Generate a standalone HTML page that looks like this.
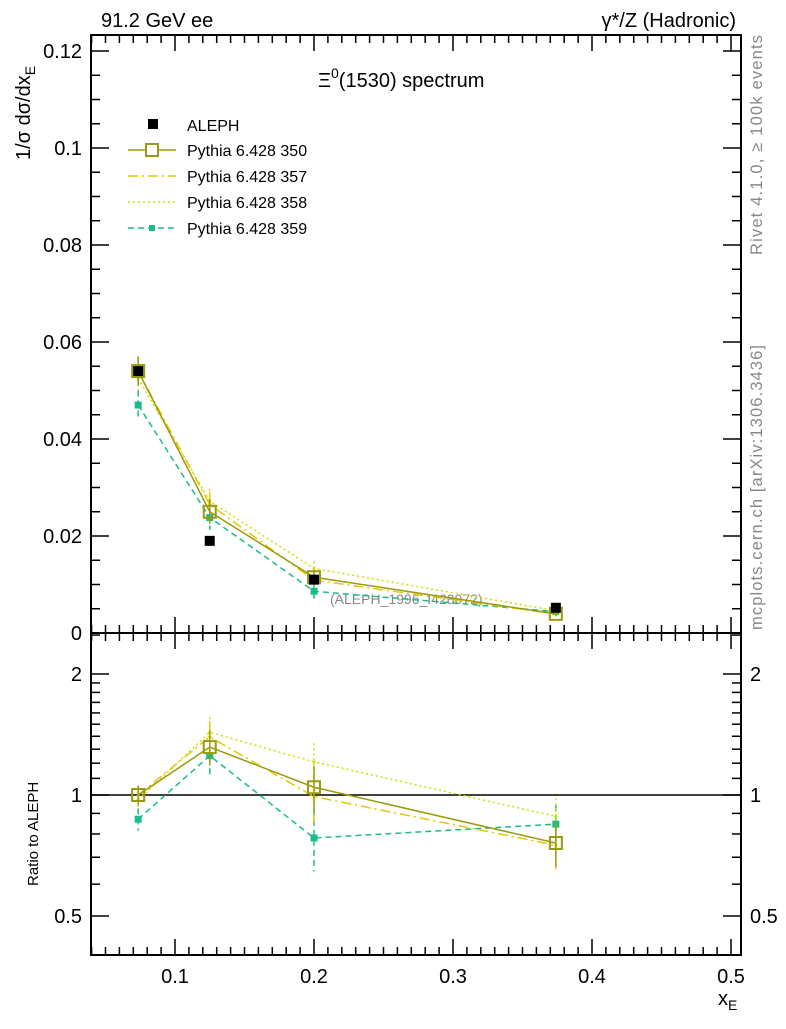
<!DOCTYPE html>
<html><head><meta charset="utf-8"><style>
body{margin:0;background:#fff;width:786px;height:1024px;overflow:hidden}
svg text{font-family:"Liberation Sans",sans-serif}
</style></head><body>
<svg id="c" width="786" height="1024" xmlns="http://www.w3.org/2000/svg"></svg>
<script>
const xs=[0.0735,0.125,0.2,0.374];
const aleph=[0.054,0.019,0.011,0.0052];
const alephErr=[0.0015,0.0008,0.0008,0.0004];
const s350=[0.054,0.025,0.0115,0.00395];
const s357=[0.054,0.0265,0.0109,0.0039];
const s358=[0.0525,0.0272,0.0133,0.0046];
const s359=[0.0470,0.0238,0.0086,0.0044];
const mcErr=[0.003,0.0025,0.0015,0.0005];
const xTicks=[0.1,0.2,0.3,0.4,0.5];
const yTicks=[0,0.02,0.04,0.06,0.08,0.1,0.12];
const rTicks=[0.5,1,2];
const L=91,R=741,T=35,M=633,B=955;
const X=v=>36+v*1390;
const Y=v=>633-v*4850;
const RY=v=>795-Math.log2(v)*121;
const svg=document.getElementById('c');const NS='http://www.w3.org/2000/svg';
function el(t,a,p){const e=document.createElementNS(NS,t);for(const k in a)e.setAttribute(k,a[k]);(p||svg).appendChild(e);return e;}
function txt(s,x,y,a,p){const e=el('text',Object.assign({x:x,y:y,'font-size':20},a||{}),p);e.textContent=s;return e;}
const f1=el('rect',{x:L,y:T,width:R-L,height:M-T,fill:'none',stroke:'#000','stroke-width':2});

const f2=el('rect',{x:L,y:M,width:R-L,height:B-M,fill:'none',stroke:'#000','stroke-width':2});

for(let i=4;i<=50;i++){const v=i/100,x=X(v);if(x<L||x>R)continue;const maj=i%10==0,l=maj?16:8;
 for(const [y0,d] of [[M,-1],[M,1],[B,-1],[T,1]]) el('line',{x1:x,x2:x,y1:y0,y2:y0+d*l,stroke:'#000','stroke-width':1.5});}
xTicks.forEach(v=>{const t=txt(v.toFixed(1),X(v),983,{'text-anchor':'middle'});});
for(let i=0;i<=24;i++){const v=i*0.005,y=Y(v);if(y<T)continue;const maj=i%4==0,l=maj?18:9;
 el('line',{x1:L,x2:L+l,y1:y,y2:y,stroke:'#000','stroke-width':1.5});el('line',{x1:R,x2:R-l,y1:y,y2:y,stroke:'#000','stroke-width':1.5});}
yTicks.forEach(v=>{const t=txt(v===0?'0':String(+v.toFixed(2)),82,Y(v)+7,{'text-anchor':'end'});});
const rMinor=[0.4,0.5,0.6,0.7,0.8,0.9,1,1.1,1.2,1.3,1.4,1.5,1.6,1.7,1.8,1.9,2,2.5];
rMinor.forEach(v=>{const y=RY(v);if(y<M||y>B)return;const maj=rTicks.includes(v),l=maj?18:9;
 el('line',{x1:L,x2:L+l,y1:y,y2:y,stroke:'#000','stroke-width':1.5});el('line',{x1:R,x2:R-l,y1:y,y2:y,stroke:'#000','stroke-width':1.5});});
rTicks.forEach(v=>{const a=txt(String(v),82,RY(v)+7,{'text-anchor':'end'});
 const b=txt(String(v),750,RY(v)+7);});
el('line',{x1:L,x2:R,y1:RY(1),y2:RY(1),stroke:'#000','stroke-width':1.5});
txt('91.2 GeV ee',101,27);txt('γ*/Z (Hadronic)',736,27,{'text-anchor':'end'});
const tt=el('text',{x:318,y:87,'font-size':20});tt.innerHTML='Ξ<tspan dy="-9" font-size="14">0</tspan><tspan dy="9">(1530) spectrum</tspan>';

const yl=el('text',{x:0,y:0,'font-size':20,transform:'translate(30,160) rotate(-90)'});yl.innerHTML='1/σ   dσ/dx<tspan font-size="14" dy="5">E</tspan>';

const rl=txt('Ratio to ALEPH',0,0,{'font-size':15,transform:'translate(38,886) rotate(-90)'});
const xl=el('text',{x:718,y:1005,'font-size':20});xl.innerHTML='x<tspan font-size="14" dy="5">E</tspan>';
txt('Rivet 4.1.0, ≥ 100k events',0,0,{'font-size':16.5,fill:'#888',transform:'translate(762,255) rotate(-90)',textLength:220});
txt('mcplots.cern.ch [arXiv:1306.3436]',0,0,{'font-size':16.5,fill:'#888',transform:'translate(762,630) rotate(-90)',textLength:285});
txt('(ALEPH_1996_I428072)',330,604,{'font-size':14,fill:'#888'});
const series=[
 {d:s359,c:'#1bbc8c',dash:'6,4',m:'sq',n:'pythia-359'},
 {d:s358,c:'#cfe000',dash:'2,3',m:'dot',n:'pythia-358'},
 {d:s357,c:'#e6c800',dash:'10,4,2,4',m:'dot',n:'pythia-357'},
 {d:s350,c:'#9a9a10',dash:'',m:'open',n:'pythia-350'}];
function draw(s,fy,vals,errs){
 const g=el('g',{});
 el('polyline',{points:xs.map((x,i)=>X(x)+','+fy(vals[i])).join(' '),fill:'none',stroke:s.c,'stroke-width':1.5,'stroke-dasharray':s.dash},g);
 xs.forEach((x,i)=>{const px=X(x),py=fy(vals[i]),e1=fy(vals[i]+errs[i]),e2=fy(Math.max(vals[i]-errs[i],1e-4));
  el('line',{x1:px,x2:px,y1:e1,y2:e2,stroke:s.c,'stroke-width':1.5,'stroke-dasharray':s.dash},g);
  if(s.m=='sq')el('rect',{x:px-3.5,y:py-3.5,width:7,height:7,fill:s.c},g);
  else if(s.m=='open')el('rect',{x:px-6,y:py-6,width:12,height:12,fill:'none',stroke:s.c,'stroke-width':2},g);
  else el('circle',{cx:px,cy:py,r:1.5,fill:s.c},g);});
}
series.forEach(s=>draw(s,Y,s.d,mcErr));
aleph.forEach((v,i)=>{const r=el('rect',{x:X(xs[i])-5,y:Y(v)-5,width:10,height:10,fill:'#000'});});
series.forEach(s=>{const rv=s.d.map((v,i)=>v/aleph[i]);draw(s,RY,rv,mcErr.map((e,i)=>e/aleph[i]));});
const lg=el('g',{});
el('rect',{x:148,y:119,width:10,height:10,fill:'#000'},lg);
const a0=txt('ALEPH',187,131,{'font-size':16},lg);
const leg=[['Pythia 6.428 350',series[3]],['Pythia 6.428 357',series[2]],['Pythia 6.428 358',series[1]],['Pythia 6.428 359',series[0]]];
leg.forEach(([n,s],i)=>{const y=150+i*26;
 el('line',{x1:128,x2:176,y1:y,y2:y,stroke:s.c,'stroke-width':1.5,'stroke-dasharray':s.dash},lg);
 if(s.m=='open')el('rect',{x:146,y:y-6,width:12,height:12,fill:'#fff',stroke:s.c,'stroke-width':2},lg);
 else if(s.m=='sq')el('rect',{x:149,y:y-3,width:6,height:6,fill:s.c},lg);
 const t=txt(n,187,y+6,{'font-size':16},lg);});
</script>
</body></html>
